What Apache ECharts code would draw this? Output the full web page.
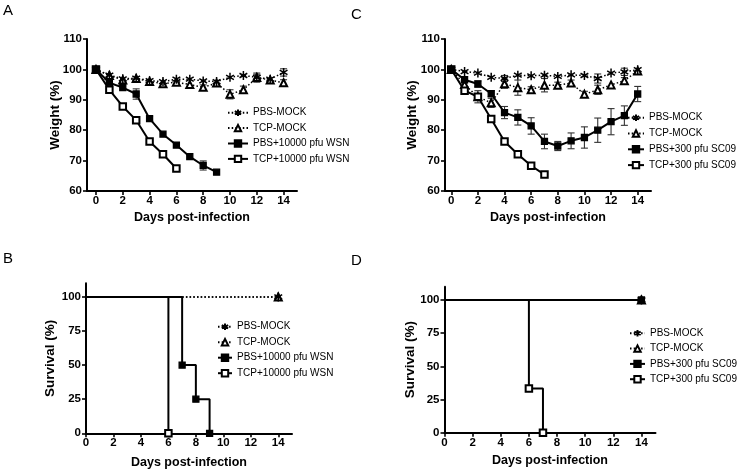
<!DOCTYPE html>
<html><head><meta charset="utf-8">
<script src="https://cdn.jsdelivr.net/npm/echarts@6/dist/echarts.min.js"></script>
<style>html,body{margin:0;padding:0;background:#fff}#c{width:738px;height:472px}</style>
</head><body><div id="c"></div>
<script>
// ---------- Data ----------
const weightDays = [0,1,2,3,4,5,6,7,8,9,10,11,12,13,14];
const dayTicks = [0,2,4,6,8,10,12,14];
const weightTicks = [60,70,80,90,100,110];
const survTicks = [0,25,50,75,100];

const legendA = ['PBS-MOCK','TCP-MOCK','PBS+10000 pfu WSN','TCP+10000 pfu WSN'];
const legendC = ['PBS-MOCK','TCP-MOCK','PBS+300 pfu SC09','TCP+300 pfu SC09'];

// Panel A (weight, WSN)
const aPbsMock    = [100,98.1,96.9,97.1,96.3,96.0,96.8,96.8,96.2,96.0,97.4,98.0,97.4,96.8,99.0];
const aPbsMockErr = [0,0.5,0.5,0.5,0.5,0.5,0.6,0.6,0.5,0.5,0.6,0.6,1.0,0.5,1.2];
const aTcpMock    = [100,98.0,96.5,97.0,96.0,95.3,95.8,95.0,94.1,95.5,91.8,93.3,97.3,96.5,95.6];
const aTcpMockErr = [0,0,0,0,0,0.5,0.5,0.6,0.8,0.5,1.5,1.2,1.5,0.5,1.0];
const aPbsWsn     = [100,95.6,94.0,91.9,83.8,78.7,75.1,71.3,68.4,66.2];
const aPbsWsnErr  = [0,0.6,0.6,1.7,0.8,0.5,0.5,0.5,1.5,0.5];
const aTcpWsn     = [100,93.3,87.8,83.3,76.3,72.1,67.4];
const aTcpWsnErr  = [0,0.5,0.5,0.5,0.5,0.5,0.5];

// Panel C (weight, SC09)
const cPbsMock     = [100,99.3,98.8,97.4,97.0,98.1,97.9,98.1,97.7,98.2,98.0,97.0,98.8,99.2,99.9];
const cPbsMockErr  = [0,0.5,0.5,0.5,1.0,0.5,0.5,0.5,0.5,0.5,0.5,1.5,0.5,1.2,0.5];
const cTcpMock     = [100,95.0,91.0,89.0,95.3,94.0,93.3,94.8,94.8,95.5,91.8,93.3,94.9,96.3,99.5];
const cTcpMockErr  = [0,0.8,1.0,1.5,1.5,2.5,1.0,2.2,1.0,1.0,1.0,1.5,0.5,1.0,0.5];
const cPbsSc09     = [100,96.6,95.2,92.0,85.8,84.2,81.4,76.3,74.8,76.5,77.6,80.0,82.8,84.8,91.9];
const cPbsSc09Err  = [0,1.0,1.0,1.0,2.0,2.5,2.7,2.4,1.5,2.6,3.5,4.0,4.3,3.2,2.5];
const cTcpSc09     = [100,93.0,91.0,83.7,76.3,72.1,68.3,65.4];
const cTcpSc09Err  = [0,0.5,2.0,0.5,0.5,0.5,1.0,0.5];

// Panel B (survival, WSN)
const bMockDays = [0,14];      const bMockSurv = [100,100];
const bPbsWsnDays = [0,7,8,9]; const bPbsWsnSurv = [100,50,25,0];
const bTcpWsnDays = [0,6];     const bTcpWsnSurv = [100,0];

// Panel D (survival, SC09)
const dMockDays = [0,14];      const dMockSurv = [100,100];
const dPbsSc09Days = [0,14];   const dPbsSc09Surv = [100,100];
const dTcpSc09Days = [0,6,7];  const dTcpSc09Surv = [100,33.3,0];

// ---------- Styles ----------
const FONT = "'Liberation Sans',Arial,sans-serif";
const ASTER = 'path://M0,-10L0,10M-8.66,-5L8.66,5M-8.66,5L8.66,-5';
const styles = {
  pbsMock: {symbol: ASTER, symbolSize: 9, dotted: true, bw: 1.5},
  tcpMock: {symbol: 'emptyTriangle', symbolSize: 7, dotted: true, bw: 1.2},
  pbsInf:  {symbol: 'rect', symbolSize: 6, dotted: false, bw: 1.3},
  tcpInf:  {symbol: 'emptyRect', symbolSize: 6.5, dotted: false, bw: 1.3}
};

function lineSeries(name, xs, ys, gi, st, opts) {
  opts = opts || {};
  return {
    name, type: 'line', xAxisIndex: gi, yAxisIndex: gi,
    step: opts.step || false,
    data: xs.map((x, i) => {
      const item = {value: [x, ys[i]]};
      if (opts.noFirstSymbol && i === 0) item.symbol = 'none';
      return item;
    }),
    symbol: st.symbol, symbolSize: st.symbolSize, symbolKeepAspect: true,
    showAllSymbol: true,
    lineStyle: {color: '#000', width: st.dotted ? 1.5 : 2, type: st.dotted ? [1.5, 2.2] : 'solid'},
    itemStyle: {color: '#000', borderColor: '#000', borderWidth: st.bw},
    emphasis: {disabled: true}, animation: false, z: 3
  };
}

function errSeries(xs, ys, es, gi) {
  return {
    type: 'custom', xAxisIndex: gi, yAxisIndex: gi, silent: true, animation: false, z: 2,
    data: xs.map((x, i) => [x, ys[i], es[i]]).filter(d => d[2] > 0.7),
    renderItem: (p, api) => {
      const x = api.value(0), y = api.value(1), e = api.value(2);
      const t = api.coord([x, y + e]), b = api.coord([x, y - e]);
      const w = 3.5, st = {stroke: '#333', lineWidth: 1.1};
      return {type: 'group', children: [
        {type: 'line', shape: {x1: t[0], y1: t[1], x2: b[0], y2: b[1]}, style: st},
        {type: 'line', shape: {x1: t[0] - w, y1: t[1], x2: t[0] + w, y2: t[1]}, style: st},
        {type: 'line', shape: {x1: b[0] - w, y1: b[1], x2: b[0] + w, y2: b[1]}, style: st}
      ]};
    }
  };
}

const axisLineStyle = {show: true, lineStyle: {color: '#000', width: 2}};
const tickStyle = {show: true, inside: false, length: 4, lineStyle: {color: '#000', width: 1.6}};
const tickLabel = {color: '#000', fontFamily: FONT, fontWeight: 'bold', fontSize: 11.5};
const xNameStyle = {color: '#000', fontFamily: FONT, fontWeight: 'bold', fontSize: 12.5};
const yNameStyle = {color: '#000', fontFamily: FONT, fontWeight: 'bold', fontSize: 13.5};

function xAx(gi, min, gap) {
  return {gridIndex: gi, type: 'value', min, max: 15,
    name: 'Days post-infection', nameLocation: 'middle', nameGap: gap, nameTextStyle: xNameStyle,
    nameMoveOverlap: false,
    axisLine: Object.assign({onZero: false}, axisLineStyle),
    axisTick: Object.assign({customValues: dayTicks}, tickStyle),
    axisLabel: Object.assign({customValues: dayTicks, margin: 4}, tickLabel),
    splitLine: {show: false}};
}
function yAx(gi, min, max, ticks, name, gap) {
  return {gridIndex: gi, type: 'value', min, max,
    name, nameLocation: 'middle', nameGap: gap, nameTextStyle: yNameStyle,
    nameMoveOverlap: false,
    axisLine: Object.assign({onZero: false}, axisLineStyle),
    axisTick: Object.assign({customValues: ticks}, tickStyle),
    axisLabel: Object.assign({customValues: ticks, margin: 5}, tickLabel),
    splitLine: {show: false}};
}
function legend(names, left, top, iw, gap) {
  return {orient: 'vertical', left, top, padding: 0, data: names, itemWidth: iw, itemHeight: 8, itemGap: gap,
    selectedMode: false,
    textStyle: {color: '#000', fontFamily: FONT, fontSize: 10, lineHeight: 12}};
}

const series = [
  // A
  errSeries(weightDays, aPbsMock, aPbsMockErr, 0),
  errSeries(weightDays, aTcpMock, aTcpMockErr, 0),
  errSeries(weightDays, aPbsWsn, aPbsWsnErr, 0),
  errSeries(weightDays, aTcpWsn, aTcpWsnErr, 0),
  lineSeries(legendA[1], weightDays, aTcpMock, 0, styles.tcpMock),
  lineSeries(legendA[0], weightDays, aPbsMock, 0, styles.pbsMock),
  lineSeries(legendA[3], weightDays, aTcpWsn, 0, styles.tcpInf),
  lineSeries(legendA[2], weightDays, aPbsWsn, 0, styles.pbsInf),
  // B
  lineSeries(legendA[1], bMockDays, bMockSurv, 1, styles.tcpMock, {step: 'end', noFirstSymbol: true}),
  lineSeries(legendA[0], bMockDays, bMockSurv, 1, styles.pbsMock, {step: 'end', noFirstSymbol: true}),
  lineSeries(legendA[3], bTcpWsnDays, bTcpWsnSurv, 1, styles.tcpInf, {step: 'end', noFirstSymbol: true}),
  lineSeries(legendA[2], bPbsWsnDays, bPbsWsnSurv, 1, styles.pbsInf, {step: 'end', noFirstSymbol: true}),
  // C
  errSeries(weightDays, cPbsMock, cPbsMockErr, 2),
  errSeries(weightDays, cTcpMock, cTcpMockErr, 2),
  errSeries(weightDays, cPbsSc09, cPbsSc09Err, 2),
  errSeries(weightDays, cTcpSc09, cTcpSc09Err, 2),
  lineSeries(legendC[1], weightDays, cTcpMock, 2, styles.tcpMock),
  lineSeries(legendC[0], weightDays, cPbsMock, 2, styles.pbsMock),
  lineSeries(legendC[3], weightDays, cTcpSc09, 2, styles.tcpInf),
  lineSeries(legendC[2], weightDays, cPbsSc09, 2, styles.pbsInf),
  // D
  lineSeries(legendC[1], dMockDays, dMockSurv, 3, styles.tcpMock, {step: 'end', noFirstSymbol: true}),
  lineSeries(legendC[0], dMockDays, dMockSurv, 3, styles.pbsMock, {step: 'end', noFirstSymbol: true}),
  lineSeries(legendC[3], dTcpSc09Days, dTcpSc09Surv, 3, styles.tcpInf, {step: 'end', noFirstSymbol: true}),
  lineSeries(legendC[2], dPbsSc09Days, dPbsSc09Surv, 3, styles.pbsInf, {step: 'end', noFirstSymbol: true})
];

const panelLabel = (t, x, y) => ({type: 'text', left: x, top: y,
  style: {text: t, font: '15px ' + FONT, fill: '#000'}});

const chart = echarts.init(document.getElementById('c'), null, {renderer: 'canvas'});
chart.setOption({
  backgroundColor: '#fff',
  animation: false,
  textStyle: {fontFamily: FONT},
  grid: [
    {left: 87, top: 39, width: 210, height: 152},
    {left: 86, top: 283.3, width: 206, height: 150},
    {left: 445, top: 39, width: 206, height: 152},
    {left: 444.5, top: 286.7, width: 211, height: 146}
  ],
  xAxis: [xAx(0, -0.67, 20), xAx(1, 0, 22.5), xAx(2, -0.47, 20), xAx(3, 0, 21)],
  yAxis: [
    yAx(0, 60, 110, weightTicks, 'Weight (%)', 25),
    yAx(1, 0, 110, survTicks, 'Survival (%)', 29),
    yAx(2, 60, 110, weightTicks, 'Weight (%)', 26),
    yAx(3, 0, 110, survTicks, 'Survival (%)', 27)
  ],
  legend: [
    legend(legendA, 227, 106.7, 20, 3.4),
    legend(legendA, 217, 320.7, 14, 3.5),
    legend(legendC, 627, 111.7, 16, 3.8),
    legend(legendC, 629, 327.3, 15, 3.3)
  ],
  graphic: [
    panelLabel('A', 3, 3), panelLabel('C', 351, 7),
    panelLabel('B', 3, 251), panelLabel('D', 351, 253)
  ],
  series
});
</script></body></html>
